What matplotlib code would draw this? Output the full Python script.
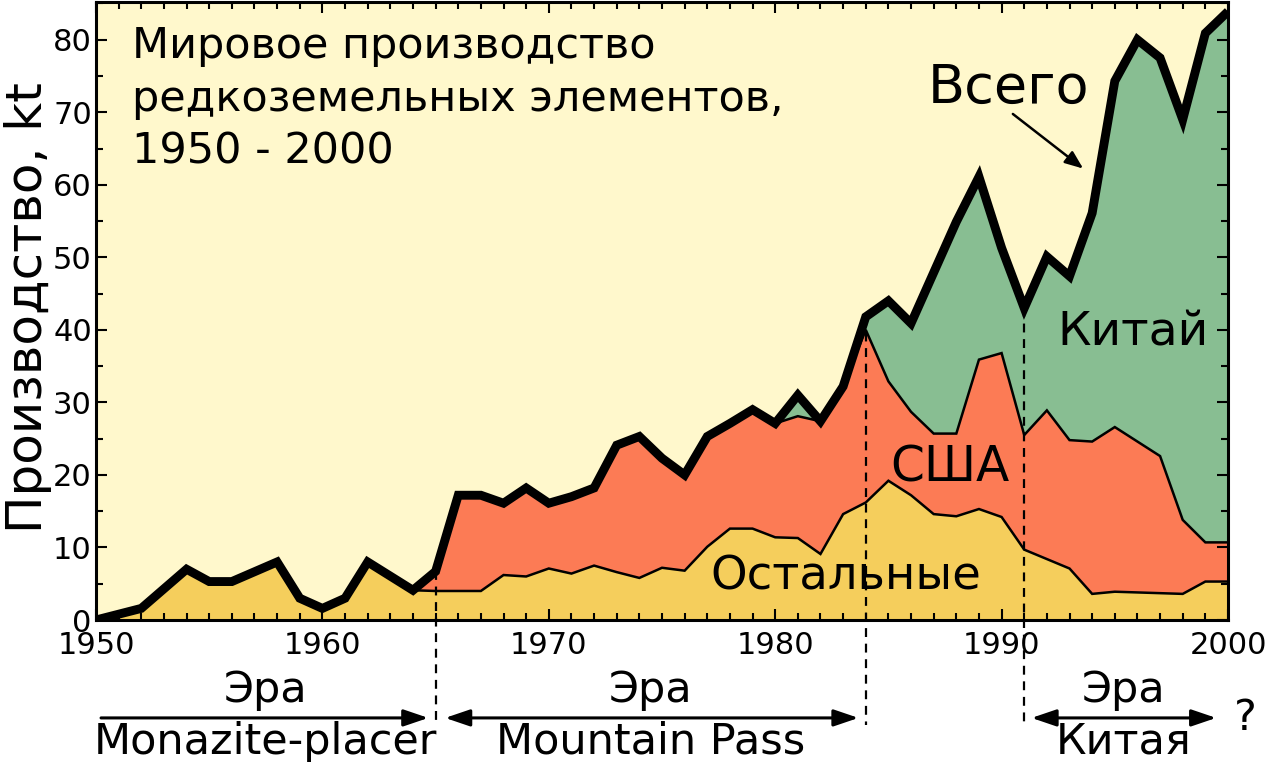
import matplotlib
matplotlib.use("Agg")
import matplotlib.pyplot as plt
import numpy as np

# - Data (kt) ------------------------------------------------------------------
years = [1950, 1952, 1954, 1955, 1956, 1958, 1959, 1960, 1961, 1962, 1964,
         1965, 1966, 1967, 1968, 1969, 1970, 1971, 1972, 1973, 1974, 1975,
         1976, 1977, 1978, 1979, 1980, 1981, 1982, 1983, 1984, 1985, 1986,
         1987, 1988, 1989, 1990, 1991, 1992, 1993, 1994, 1995, 1996, 1997,
         1998, 1999, 2000]
others = [0.0, 1.6, 7.0, 5.3, 5.3, 8.0, 3.0, 1.6, 3.0, 8.0, 4.1,
          4.0, 4.0, 4.0, 6.2, 6.0, 7.1, 6.4, 7.5, 6.6, 5.8, 7.2,
          6.8, 10.1, 12.6, 12.6, 11.4, 11.3, 9.1, 14.6, 16.2, 19.2, 17.2,
          14.6, 14.3, 15.3, 14.2, 9.7, 8.4, 7.1, 3.6, 3.9, 3.8, 3.7,
          3.6, 5.3, 5.3]
usa = [0, 0, 0, 0, 0, 0, 0, 0, 0, 0, 0,
       2.7, 13.2, 13.2, 9.9, 12.2, 9.0, 10.6, 10.7, 17.5, 19.5, 15.1,
       13.2, 15.2, 14.5, 16.4, 15.7, 16.8, 18.3, 17.6, 23.8, 13.7, 11.5,
       11.1, 11.4, 20.6, 22.6, 15.8, 20.5, 17.7, 21.0, 22.7, 20.8, 18.9,
       10.2, 5.4, 5.4]
china = [0, 0, 0, 0, 0, 0, 0, 0, 0, 0, 0,
         0, 0, 0, 0, 0, 0, 0, 0, 0, 0, 0,
         0, 0, 0, 0, 0, 2.9, 0, 0, 1.8, 11.1, 12.2,
         22.2, 29.2, 25.2, 14.5, 17.5, 21.2, 22.6, 31.5, 47.7, 55.4, 54.9,
         55.2, 70.2, 73.2]
era_bounds = [1965, 1984, 1991]

# - Colours --------------------------------------------------------------------
bg_color = '#fff8cc'
others_color = '#f5ce5c'
usa_color = '#fc7b55'
china_color = '#88be92'

plt.rcParams['font.family'] = ['DejaVu Sans']

top_others = np.array(others)
top_usa = top_others + np.array(usa)
total = top_usa + np.array(china)

fig = plt.figure(figsize=(12.8, 7.62), dpi=100)
ax = fig.add_axes([96 / 1280, 1 - 620 / 762, 1132 / 1280, 618 / 762])
ax.set_facecolor(bg_color)

ax.stackplot(years, others, usa, china,
             colors=[others_color, usa_color, china_color], lw=0)
ax.plot(years, top_others, color='k', lw=1.8, solid_joinstyle='miter')
ax.plot(years, top_usa, color='k', lw=1.8, solid_joinstyle='miter')
ax.plot(years, total, color='k', lw=6.4, solid_joinstyle='miter',
        solid_capstyle='butt', zorder=4)

# era boundaries, running below the axis
for yr in era_bounds:
    ax.plot([yr, yr], [total[years.index(yr)], -14.5], color='k', lw=1.6,
            ls=(0, (4, 3)), clip_on=False, zorder=5)

ax.set_xlim(1950, 2000)
ax.set_ylim(0, 85.2)
ax.set_xticks(range(1950, 2001, 10))
ax.set_xticks(range(1950, 2001, 1), minor=True)
ax.set_yticks(range(0, 81, 10))
ax.set_yticks(range(0, 86, 5), minor=True)
ax.tick_params(which='both', direction='in', top=True, right=True,
               width=1.5, labelsize=22)
ax.tick_params(which='major', length=8)
ax.tick_params(which='minor', length=5)
ax.tick_params(axis='x', pad=8)
ax.tick_params(axis='y', pad=3)
for s in ax.spines.values():
    s.set_linewidth(2.2)
    s.set_zorder(6)

fig.text(28 / 1280, 1 - 308 / 762, 'Производство, kt', rotation=90,
         ha='center', va='center', fontsize=36)

ax.text(0.032, 0.962, 'Мировое производство\nредкоземельных элементов,\n1950 - 2000',
        transform=ax.transAxes, ha='left', va='top', fontsize=31,
        linespacing=1.32)

ax.text(1990.3, 73.4, 'Всего', ha='center', va='center', fontsize=39)
ax.annotate('', xy=(1993.7, 62.0), xytext=(1990.4, 70.0),
            arrowprops=dict(arrowstyle='-|>,head_length=0.55,head_width=0.22',
                            color='k', lw=1.8, mutation_scale=20))
ax.text(1995.8, 39.6, 'Китай', ha='center', va='center', fontsize=34, zorder=7)
ax.text(1987.7, 21.0, 'США', ha='center', va='center', fontsize=35, zorder=7)
ax.text(1983.1, 5.9, 'Остальные', ha='center', va='center', fontsize=33.5,
        zorder=7)

# eras under the axis
arrow_y = -13.5
head = '-|>,head_length=0.5,head_width=0.17'
both = '<|-|>,head_length=0.5,head_width=0.17'
ax.annotate('', xy=(1964.8, arrow_y), xytext=(1950.1, arrow_y),
            arrowprops=dict(arrowstyle=head, color='k', lw=2.2,
                            mutation_scale=30), annotation_clip=False)
ax.annotate('', xy=(1983.8, arrow_y), xytext=(1965.3, arrow_y),
            arrowprops=dict(arrowstyle=both, color='k', lw=2.2,
                            mutation_scale=30), annotation_clip=False)
ax.annotate('', xy=(1999.6, arrow_y), xytext=(1991.2, arrow_y),
            arrowprops=dict(arrowstyle=both, color='k', lw=2.2,
                            mutation_scale=30), annotation_clip=False)
for xc, name in [(1957.5, 'Monazite-placer'), (1974.5, 'Mountain Pass'),
                 (1995.4, 'Китая')]:
    ax.text(xc, -9.7, 'Эра', ha='center', va='center', fontsize=31,
            clip_on=False)
    ax.text(xc, -16.8, name, ha='center', va='center', fontsize=31,
            clip_on=False)
ax.text(2000.75, -13.5, '?', ha='center', va='center', fontsize=31,
        clip_on=False)

fig.savefig('out.png', dpi=100)
